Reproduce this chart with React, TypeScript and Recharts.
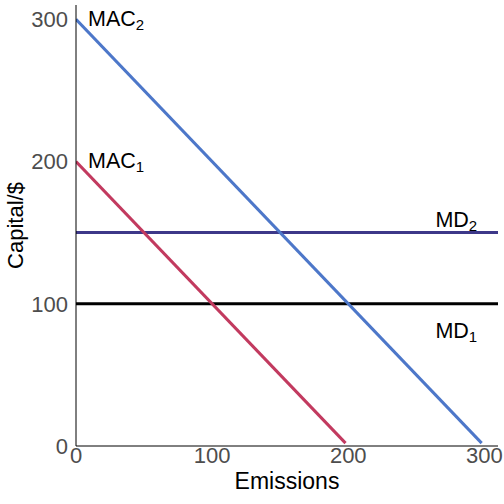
import React from "react";
import {
  LineChart,
  Line,
  XAxis,
  YAxis,
  ReferenceLine,
  ReferenceDot,
  Label,
} from "recharts";

// marginal abatement cost curves (emissions -> cost)
const mac1Emissions = [0, 198];
const mac1Cost = [200, 2];
const mac2Emissions = [0, 298];
const mac2Cost = [300, 2];

// marginal damage levels
const mdLevels = [100, 150];
const mdColors = ["#000000", "#3d3889"];

const xTicks = [0, 100, 200, 300];
const yTicks = [0, 100, 200, 300];

// curve labels: main text, subscript, anchor point in data units
const labelNames = ["MAC", "MAC", "MD", "MD"];
const labelSubs = ["2", "1", "2", "1"];
const labelX = [0, 0, 264, 264];
const labelY = [300, 200, 150, 100];
const labelDy = [7, 7, -6, 34];

const FONT = "'Liberation Sans', Arial, sans-serif";

const toRows = (xs: number[], ys: number[]) =>
  xs.map((x, i) => ({ x, y: ys[i] }));

const mac1 = toRows(mac1Emissions, mac1Cost);
const mac2 = toRows(mac2Emissions, mac2Cost);

const CurveLabel = (name: string, sub: string, dx: number, dy: number) =>
  (props: any) => {
    const { cx, cy } = props;
    return (
      <text
        x={cx + dx}
        y={cy + dy}
        fontFamily={FONT}
        fontSize={21.5}
        fill="#000"
      >
        {name}
        <tspan dy={4} fontSize={15}>
          {sub}
        </tspan>
      </text>
    );
  };

const YTitle = (props: any) => {
  const vb = props.viewBox || { x: 0, y: 5, width: 76, height: 441 };
  const cx = vb.x + 15;
  const cy = vb.y + vb.height / 2;
  return (
    <text
      x={cx}
      y={cy}
      transform={`rotate(-90 ${cx} ${cy})`}
      textAnchor="middle"
      dominantBaseline="central"
      fontFamily={FONT}
      fontSize={22}
      fill="#000"
    >
      Capital/$
    </text>
  );
};

const App = () => {
  return (
    <div style={{ position: "absolute", left: 0, top: 0, background: "#fff" }}>
      <LineChart
        width={504}
        height={504}
        margin={{ top: 5, right: 6, bottom: 0, left: 0 }}
      >
        <XAxis
          type="number"
          dataKey="x"
          domain={[0, 310]}
          ticks={xTicks}
          allowDataOverflow
          height={58}
          tickSize={0}
          tickMargin={1}
          axisLine={{ stroke: "#000", strokeWidth: 1 }}
          tick={{ fill: "#4d4d4d", fontSize: 22, fontFamily: FONT }}
        >
          <Label
            value="Emissions"
            position="insideBottom"
            offset={15}
            fill="#000"
            fontSize={23}
            fontFamily={FONT}
          />
        </XAxis>
        <YAxis
          type="number"
          dataKey="y"
          domain={[0, 310]}
          ticks={yTicks}
          allowDataOverflow
          width={76}
          tickSize={0}
          tickMargin={8}
          axisLine={{ stroke: "#000", strokeWidth: 1 }}
          tick={{ fill: "#4d4d4d", fontSize: 22, fontFamily: FONT }}
        >
          <Label content={YTitle} />
        </YAxis>
        {mdLevels.map((level, i) => (
          <ReferenceLine
            key={`md${i}`}
            y={level}
            stroke={mdColors[i]}
            strokeWidth={3}
          />
        ))}
        <Line
          data={mac1}
          dataKey="y"
          stroke="#c23a5f"
          strokeWidth={3}
          dot={false}
          activeDot={false}
          isAnimationActive={false}
        />
        <Line
          data={mac2}
          dataKey="y"
          stroke="#4d77c9"
          strokeWidth={3}
          dot={false}
          activeDot={false}
          isAnimationActive={false}
        />
        {labelNames.map((name, i) => (
          <ReferenceDot
            key={`lab${i}`}
            x={labelX[i]}
            y={labelY[i]}
            r={0}
            ifOverflow="visible"
            shape={CurveLabel(name, labelSubs[i], labelX[i] === 0 ? 12 : 0, labelDy[i])}
          />
        ))}
      </LineChart>
    </div>
  );
};

export default App;
